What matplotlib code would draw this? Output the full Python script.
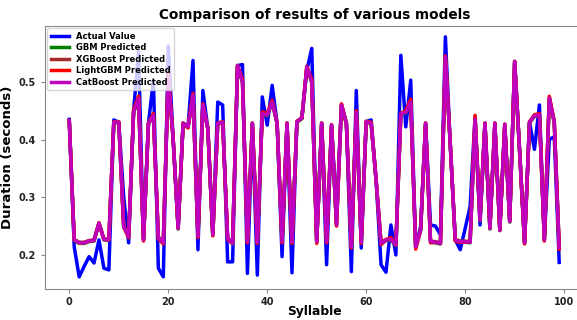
import numpy as np
import matplotlib.pyplot as plt

syllable = np.arange(100)

actual = [0.435, 0.214, 0.162, 0.180, 0.197, 0.186, 0.226, 0.177, 0.174, 0.434,
          0.430, 0.300, 0.221, 0.450, 0.552, 0.226, 0.428, 0.503, 0.177, 0.162,
          0.562, 0.400, 0.246, 0.428, 0.422, 0.537, 0.209, 0.485, 0.419, 0.235,
          0.465, 0.460, 0.188, 0.188, 0.528, 0.530, 0.168, 0.428, 0.165, 0.474,
          0.425, 0.494, 0.428, 0.197, 0.428, 0.169, 0.431, 0.437, 0.520, 0.558,
          0.222, 0.428, 0.183, 0.425, 0.270, 0.460, 0.428, 0.171, 0.485, 0.212,
          0.431, 0.434, 0.330, 0.183, 0.170, 0.252, 0.200, 0.546, 0.422, 0.503,
          0.214, 0.249, 0.428, 0.252, 0.250, 0.235, 0.578, 0.390, 0.226, 0.209,
          0.246, 0.284, 0.440, 0.252, 0.428, 0.246, 0.428, 0.243, 0.426, 0.258,
          0.535, 0.380, 0.221, 0.430, 0.383, 0.460, 0.226, 0.400, 0.405, 0.187]

catboost = [0.432, 0.226, 0.221, 0.221, 0.224, 0.225, 0.255, 0.227, 0.226, 0.430,
            0.430, 0.249, 0.232, 0.448, 0.471, 0.226, 0.428, 0.442, 0.230, 0.221,
            0.510, 0.400, 0.246, 0.428, 0.422, 0.477, 0.232, 0.460, 0.419, 0.235,
            0.428, 0.430, 0.229, 0.220, 0.528, 0.500, 0.223, 0.428, 0.222, 0.445,
            0.442, 0.465, 0.428, 0.223, 0.428, 0.222, 0.431, 0.437, 0.526, 0.500,
            0.223, 0.428, 0.223, 0.425, 0.252, 0.460, 0.428, 0.214, 0.447, 0.222,
            0.431, 0.428, 0.330, 0.220, 0.226, 0.227, 0.217, 0.445, 0.447, 0.465,
            0.214, 0.243, 0.428, 0.223, 0.222, 0.220, 0.543, 0.390, 0.226, 0.223,
            0.223, 0.222, 0.435, 0.260, 0.428, 0.246, 0.428, 0.243, 0.426, 0.258,
            0.535, 0.380, 0.221, 0.430, 0.441, 0.443, 0.226, 0.472, 0.430, 0.213]

lightgbm = [0.432, 0.226, 0.221, 0.221, 0.224, 0.225, 0.255, 0.227, 0.226, 0.430,
            0.430, 0.249, 0.230, 0.452, 0.475, 0.224, 0.428, 0.445, 0.228, 0.219,
            0.515, 0.400, 0.246, 0.428, 0.420, 0.480, 0.230, 0.462, 0.419, 0.233,
            0.428, 0.430, 0.227, 0.220, 0.528, 0.505, 0.221, 0.428, 0.220, 0.448,
            0.445, 0.468, 0.428, 0.221, 0.428, 0.220, 0.431, 0.437, 0.526, 0.505,
            0.220, 0.428, 0.221, 0.425, 0.250, 0.462, 0.428, 0.212, 0.450, 0.220,
            0.431, 0.430, 0.330, 0.218, 0.226, 0.230, 0.217, 0.445, 0.450, 0.470,
            0.210, 0.243, 0.428, 0.221, 0.222, 0.220, 0.545, 0.390, 0.224, 0.222,
            0.222, 0.224, 0.442, 0.262, 0.428, 0.246, 0.428, 0.243, 0.426, 0.258,
            0.535, 0.380, 0.219, 0.430, 0.443, 0.445, 0.224, 0.475, 0.432, 0.210]

xgboost = [v + 0.001 for v in catboost]
gbm = [v - 0.001 for v in catboost]

fig = plt.figure(figsize=(5.77, 3.2), dpi=100)
ax = fig.add_axes([0.0776, 0.097, 0.934, 0.822])

ax.plot(syllable, actual, color='blue', lw=2.5, label='Actual Value')
ax.plot(syllable, gbm, color='green', lw=2.5, label='GBM Predicted')
ax.plot(syllable, xgboost, color='brown', lw=2.5, label='XGBoost Predicted')
ax.plot(syllable, lightgbm, color='red', lw=2.5, label='LightGBM Predicted')
ax.plot(syllable, catboost, color='m', lw=2.5, label='CatBoost Predicted')

ax.set_xlim(-4.95, 103.95)
ax.set_ylim(0.141, 0.597)
ax.set_xticks([0, 20, 40, 60, 80, 100])
ax.set_yticks([0.2, 0.3, 0.4, 0.5])

ax.set_title('Comparison of results of various models', fontsize=9.8, fontweight='bold', pad=5)
ax.set_xlabel('Syllable', fontsize=8.8, fontweight='bold', labelpad=-1)
ax.set_ylabel('Duration (seconds)', fontsize=9.5, fontweight='bold', labelpad=3)

for s in ax.spines.values():
    s.set_color('#888888')
ax.tick_params(colors='#888888', labelcolor='#222222', labelsize=7, length=3)
ax.tick_params(axis='x', pad=2.5)
for lbl in ax.get_xticklabels() + ax.get_yticklabels():
    lbl.set_fontweight('bold')

leg = ax.legend(loc='upper left', prop={'weight': 'bold', 'size': 6},
                handlelength=2.2, borderaxespad=0.3, labelspacing=0.3)

fig.savefig('out.png', dpi=100)
